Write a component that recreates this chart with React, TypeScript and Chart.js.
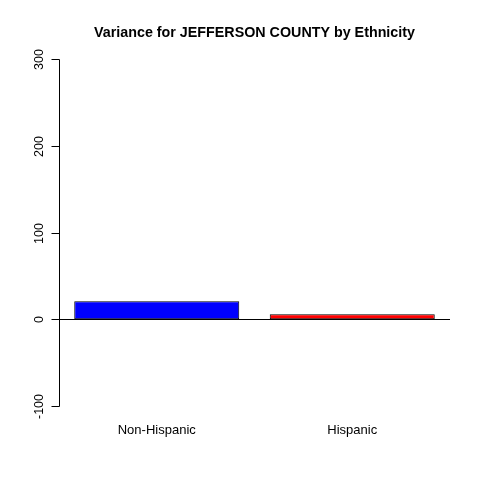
import React, { useEffect, useRef } from "react";
import { Chart, registerables } from "chart.js";

Chart.register(...registerables);

const title = "Variance for JEFFERSON COUNTY by Ethnicity";
const categories = ["Non-Hispanic", "Hispanic"];
const variance = [20.7, 5.8];
const barColors = ["#0000FF", "#FF0000"];
const yTicks = [-100, 0, 100, 200, 300];

const rAxesPlugin = {
  id: "rAxes",
  afterDatasetsDraw(chart: any) {
    const { ctx, chartArea, scales } = chart;
    const y = scales.y;
    const x = scales.x;
    ctx.save();
    ctx.strokeStyle = "#000";
    ctx.fillStyle = "#000";
    ctx.lineWidth = 1;

    // zero reference line
    const y0 = Math.round(y.getPixelForValue(0)) + 0.5;
    ctx.beginPath();
    ctx.moveTo(chartArea.left, y0);
    ctx.lineTo(chartArea.right, y0);
    ctx.stroke();

    // y axis line
    const ax = Math.round(chartArea.left) + 0.5;
    const yTop = Math.round(y.getPixelForValue(yTicks[yTicks.length - 1])) + 0.5;
    const yBot = Math.round(y.getPixelForValue(yTicks[0])) + 0.5;
    ctx.beginPath();
    ctx.moveTo(ax, yTop);
    ctx.lineTo(ax, yBot);
    ctx.stroke();

    ctx.font = "12.5px 'Liberation Sans', Arial, sans-serif";
    ctx.textAlign = "center";
    ctx.textBaseline = "alphabetic";
    yTicks.forEach((t) => {
      const py = Math.round(y.getPixelForValue(t)) + 0.5;
      ctx.beginPath();
      ctx.moveTo(ax - 8, py);
      ctx.lineTo(ax, py);
      ctx.stroke();
      ctx.save();
      ctx.translate(chartArea.left - 16, py);
      ctx.rotate(-Math.PI / 2);
      ctx.fillText(String(t), 0, 0);
      ctx.restore();
    });

    // category labels
    ctx.font = "13px 'Liberation Sans', Arial, sans-serif";
    categories.forEach((c, i) => {
      const px = x.getPixelForValue(i);
      ctx.fillText(c, px, chartArea.bottom + 14);
    });

    // title
    ctx.font = "bold 14.3px 'Liberation Sans', Arial, sans-serif";
    ctx.fillText(title, (chartArea.left + chartArea.right) / 2, 36.5);
    ctx.restore();
  },
};

export default function App() {
  const ref = useRef<HTMLCanvasElement>(null);
  useEffect(() => {
    if (!ref.current) return;
    const chart = new Chart(ref.current, {
      type: "bar",
      data: {
        labels: categories,
        datasets: [
          {
            data: variance,
            backgroundColor: barColors,
            borderColor: "#000",
            borderWidth: 1,
            borderSkipped: false,
            barPercentage: 0.844,
            categoryPercentage: 1,
          },
        ],
      },
      options: {
        responsive: false,
        animation: false,
        layout: { padding: { left: 59, right: 30, top: 45, bottom: 60 } },
        plugins: {
          legend: { display: false },
          title: { display: false },
          tooltip: { enabled: false },
        },
        scales: {
          x: { display: false, offset: true },
          y: { display: false, min: -116, max: 316 },
        },
      },
      plugins: [rAxesPlugin],
    });
    return () => chart.destroy();
  }, []);
  return (
    <div style={{ position: "fixed", left: 0, top: 0, width: 480, height: 480, background: "#fff" }}>
      <canvas ref={ref} width={480} height={480} style={{ width: 480, height: 480 }} />
    </div>
  );
}
